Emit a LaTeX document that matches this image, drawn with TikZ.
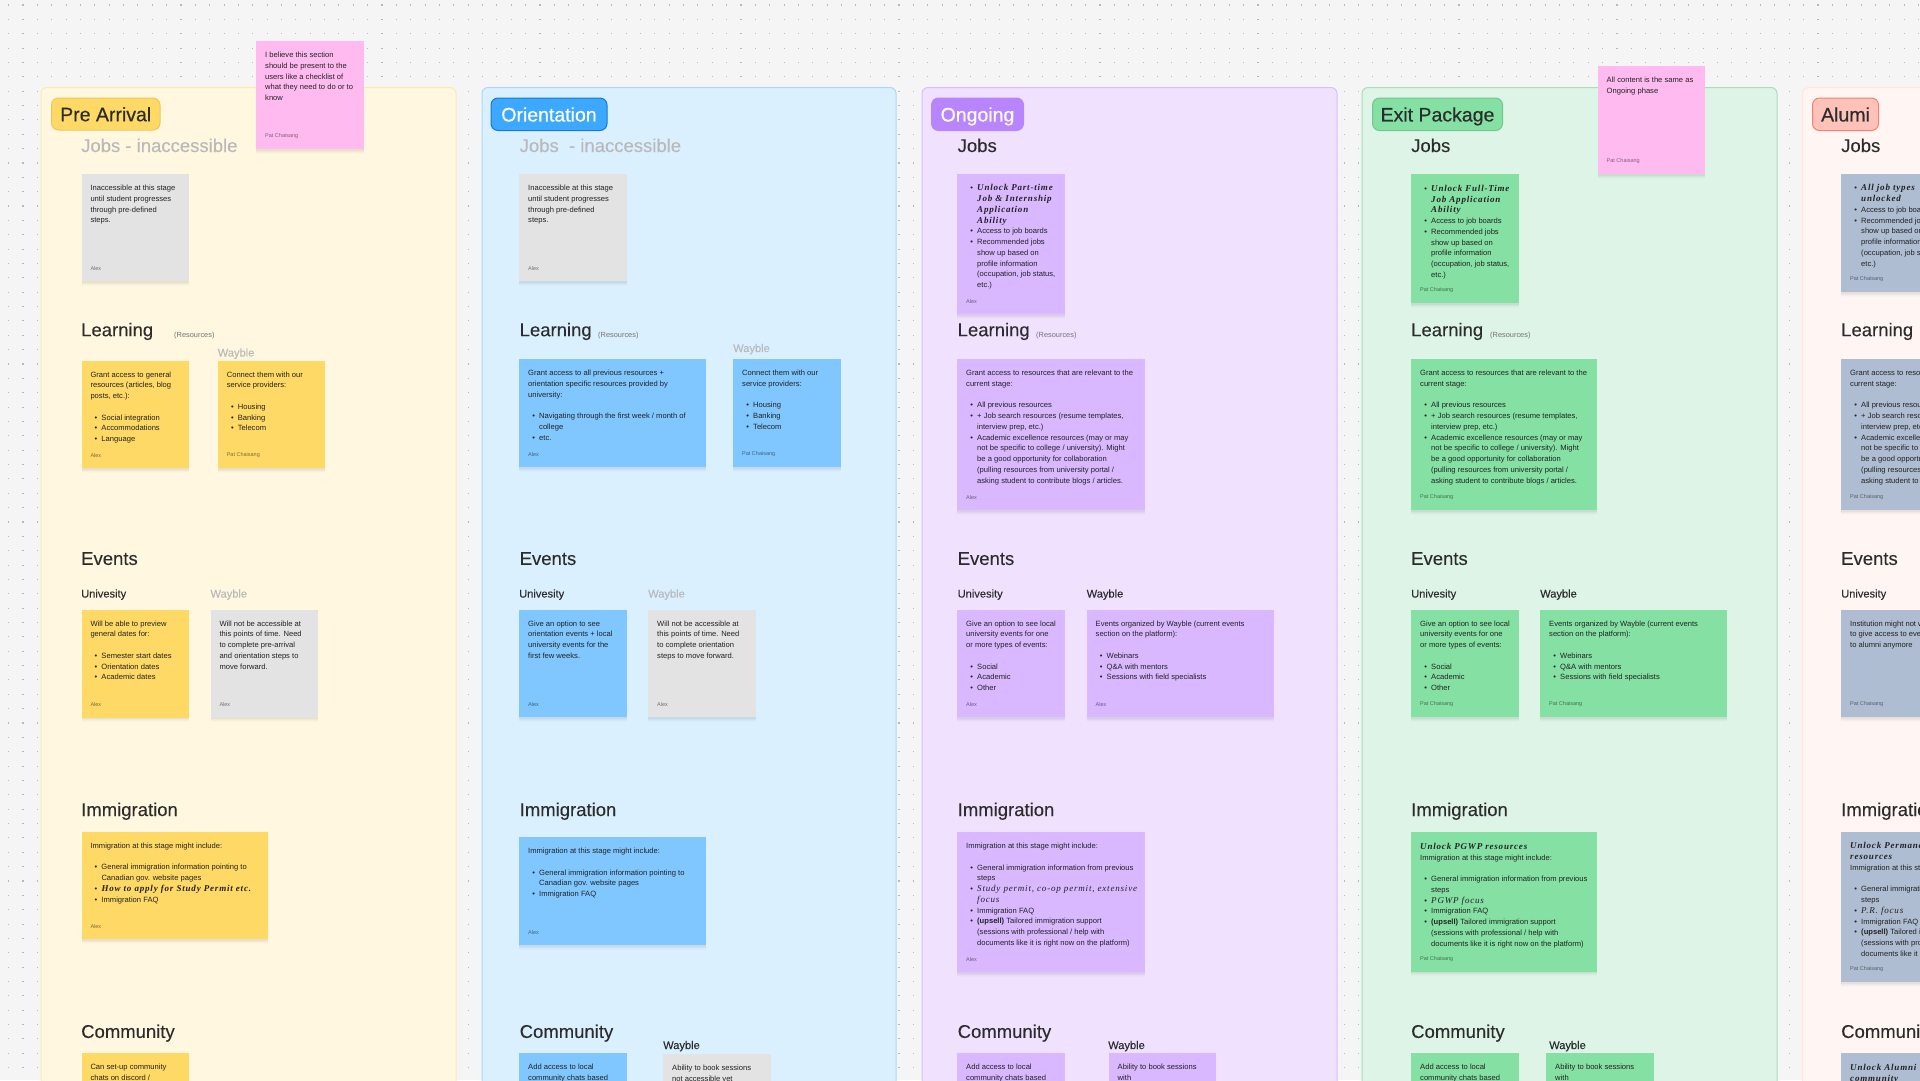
\documentclass[tikz,border=0pt]{standalone}
\usepackage{fontspec}
\setmainfont{Liberation Sans}
\newfontfamily\medfont[FakeBold=0.45]{Liberation Sans}
\newfontfamily\headfont[FakeBold=0.12]{Liberation Sans}
\newfontfamily\handbold[LetterSpace=9]{Liberation Serif Bold Italic}
\newfontfamily\handthin[LetterSpace=9]{Liberation Serif Italic}
\usetikzlibrary{shadows}
\definecolor{bgc}{HTML}{F5F5F5}
\definecolor{dotc}{HTML}{B8B8B8}
\definecolor{fyel}{HTML}{FFF7E0}\definecolor{byel}{HTML}{FDE9AE}
\definecolor{fblu}{HTML}{DAF0FF}\definecolor{bblu}{HTML}{A8D8FF}
\definecolor{fpur}{HTML}{F0E2FF}\definecolor{bpur}{HTML}{D9BEFF}
\definecolor{fgrn}{HTML}{DDF4E6}\definecolor{bgrn}{HTML}{A5E0BC}
\definecolor{fred}{HTML}{FFF5F2}\definecolor{bred}{HTML}{FFE6E0}
\definecolor{cyel}{HTML}{FFD966}\definecolor{cblu}{HTML}{80C7FF}
\definecolor{cpur}{HTML}{D9B8FF}\definecolor{cgrn}{HTML}{85E0A3}
\definecolor{cgry}{HTML}{E3E3E3}\definecolor{cslt}{HTML}{AEBDD1}
\definecolor{cpnk}{HTML}{FFBBF0}
\definecolor{inkc}{HTML}{222222}
\definecolor{headc}{HTML}{2C2C2C}
\definecolor{dimc}{HTML}{B9B9B9}
\definecolor{tagblu}{HTML}{3DA8FF}\definecolor{tagblub}{HTML}{1B78CC}
\definecolor{tagpur}{HTML}{B885FF}
\definecolor{tagred}{HTML}{FFC2B8}\definecolor{tagredb}{HTML}{F4806E}
\tikzset{
  framebox/.style={rounded corners=6pt,line width=1pt,inner sep=0pt,anchor=north west},
  tagbox/.style={rounded corners=7pt,line width=1pt,inner sep=0pt,anchor=north west,text height=16pt,text depth=1.6pt,font=\medfont\fontsize{19.5}{22}\selectfont},
  cardbox/.style={inner sep=0pt,anchor=north west,
    general shadow={fill=black,opacity=.012,shadow yshift=-4.5pt},
    general shadow={fill=black,opacity=.018,shadow yshift=-3.5pt},
    general shadow={fill=black,opacity=.025,shadow yshift=-2.5pt},
    general shadow={fill=black,opacity=.035,shadow yshift=-1.5pt}},
  bodytext/.style={inner sep=0pt,anchor=north west,align=left,text=inkc,
    font=\fontsize{7.6}{10.75}\selectfont,execute at begin node={\rule{0pt}{7pt}}},
  authortext/.style={inner sep=0pt,anchor=west,font=\fontsize{5.5}{7}\selectfont},
  headtext/.style={inner sep=0pt,anchor=base west,font=\headfont\fontsize{18.5}{22}\selectfont,yshift=0.8pt},
  subtext/.style={inner sep=0pt,anchor=base west,font=\headfont\fontsize{11.1}{13}\selectfont},
  smalltext/.style={inner sep=0pt,anchor=base west,text=black!55,font=\fontsize{7.4}{9}\selectfont}
}
% name, x1, y1, x2, y2, fill, body, author
\newcommand{\stickynote}[8]{%
  \node[cardbox,fill=#6,minimum width={(#4-#2)*1pt},minimum height={(#5-#3)*1pt}] (#1) at (#2,#3) {};
  \node[bodytext] (#1t) at ({#2+9},{#3+11}) {#7};
  \if\relax\detokenize{#8}\relax\else
  \node[authortext,text=#6!50!black] (#1a) at ({#2+9},{#5-12.6}) {#8};
  \fi
}
\newcommand{\bl}[1]{\hspace*{4.2pt}\makebox[6.8pt][l]{•}#1}
\newcommand{\cn}[1]{\hspace*{11pt}#1}
\newcommand{\hw}[1]{{\handbold\fontsize{9}{10.75}\selectfont #1}}
\newcommand{\hl}[1]{{\handthin\fontsize{9}{10.75}\selectfont #1}}
\newcommand{\vg}{\\[10.75pt]}
\begin{document}
\begin{tikzpicture}[x=1pt,y=-1pt]
\useasboundingbox (0,0) rectangle (1920,1080);
\clip (0,0) rectangle (1920,1080);
\fill[bgc] (0,0) rectangle (1920,1080);
\foreach \r in {0,...,75}
  \draw[dotc,line width=1.1pt,dash pattern=on 1.1pt off 13.26pt] (8.1,{5+14.36*\r}) -- (1920,{5+14.36*\r});
% frames
\node[framebox,fill=fyel,draw=byel,minimum width=415pt,minimum height=1200pt] (fr1) at (40.5,87) {};
\node[framebox,fill=fblu,draw=bblu,minimum width=414pt,minimum height=1200pt] (fr2) at (481.5,87) {};
\node[framebox,fill=fpur,draw=bpur,minimum width=415pt,minimum height=1200pt] (fr3) at (921.5,87) {};
\node[framebox,fill=fgrn,draw=bgrn,minimum width=415pt,minimum height=1200pt] (fr4) at (1361.5,87) {};
\node[framebox,fill=fred,draw=bred,minimum width=415pt,minimum height=1200pt] (fr5) at (1802,87) {};
% tags
\node[tagbox,fill=cyel,draw=cyel!92!black,text=headc,minimum width=108.5pt,minimum height=32pt] (tag1) at (51,97.5) {Pre Arrival};
\node[tagbox,fill=tagblu,draw=tagblub,text=white,minimum width=116pt,minimum height=32.5pt] (tag2) at (490.5,97.5) {Orientation};
\node[tagbox,fill=tagpur,draw=tagpur,text=white,minimum width=92pt,minimum height=32.5pt] (tag3) at (931,97.5) {Ongoing};
\node[tagbox,fill=cgrn,draw=cgrn!88!black,text=headc,minimum width=130pt,minimum height=32.5pt] (tag4) at (1372,97.5) {Exit Package};
\node[tagbox,fill=tagred,draw=tagredb,text=headc,minimum width=66pt,minimum height=32.5pt] (tag5) at (1812,97.5) {Alumi};
% ---------- Pre Arrival
\node[headtext,text=dimc] (h1a) at (81,152.8) {Jobs - inaccessible};
\stickynote{a1}{81.3}{174}{188.6}{281}{cgry}{Inaccessible at this stage\\until student progresses\\through pre-defined\\steps.}{Alex}
\node[headtext,text=headc] (h1b) at (81,337) {Learning};
\node[smalltext] (r1) at (174,337) {(Resources)};
\node[subtext,text=dimc] (w1a) at (217.6,356.5) {Wayble};
\stickynote{a2}{81.3}{360.5}{188.6}{468}{cyel}{Grant access to general\\resources (articles, blog\\posts, etc.):\vg\bl{Social integration}\\\bl{Accommodations}\\\bl{Language}}{Alex}
\stickynote{a3}{217.6}{360.5}{325}{468}{cyel}{Connect them with our\\service providers:\vg\bl{Housing}\\\bl{Banking}\\\bl{Telecom}}{Pat Chaisang}
\node[headtext,text=headc] (h1c) at (81,565.7) {Events};
\node[subtext,text=headc] (u1) at (81,597.5) {Univesity};
\node[subtext,text=dimc] (w1b) at (210.3,597.5) {Wayble};
\stickynote{a4}{81.3}{609.4}{188.6}{717.3}{cyel}{Will be able to preview\\general dates for:\vg\bl{Semester start dates}\\\bl{Orientation dates}\\\bl{Academic dates}}{Alex}
\stickynote{a5}{210.3}{609.4}{317.6}{717.3}{cgry}{Will not be accessible at\\this points of time. Need\\to complete pre-arrival\\and orientation steps to\\move forward.}{Alex}
\node[headtext,text=headc] (h1d) at (81,816.8) {Immigration};
\stickynote{a6}{81.3}{831.7}{267.6}{938.9}{cyel}{Immigration at this stage might include:\vg\bl{General immigration information pointing to}\\\cn{Canadian gov. website pages}\\\bl{\hw{How to apply for Study Permit etc.}}\\\bl{Immigration FAQ}}{Alex}
\node[headtext,text=headc] (h1e) at (81,1038.7) {Community};
\stickynote{a7}{81.3}{1053}{188.6}{1161}{cyel}{Can set-up community\\chats on discord /}{}
\stickynote{anote}{256}{41}{363.7}{149}{cpnk}{I believe this section\\should be present to the\\users like a checklist of\\what they need to do or to\\know}{Pat Chaisang}
% ---------- Orientation
\node[headtext,text=dimc] (h2a) at (519.5,152.8) {Jobs\ \ - inaccessible};
\stickynote{b1}{519}{174}{627}{281}{cgry}{Inaccessible at this stage\\until student progresses\\through pre-defined\\steps.}{Alex}
\node[headtext,text=headc] (h2b) at (519.5,337) {Learning};
\node[smalltext] (r2) at (598,337) {(Resources)};
\node[subtext,text=dimc] (w2a) at (733,352) {Wayble};
\stickynote{b2}{519}{359}{706}{467}{cblu}{Grant access to all previous resources +\\orientation specific resources provided by\\university:\vg\bl{Navigating through the first week / month of}\\\cn{college}\\\bl{etc.}}{Alex}
\stickynote{b3}{733}{359}{840.5}{467}{cblu}{Connect them with our\\service providers:\vg\bl{Housing}\\\bl{Banking}\\\bl{Telecom}}{Pat Chaisang}
\node[headtext,text=headc] (h2c) at (519.5,565.7) {Events};
\node[subtext,text=headc] (u2) at (519,597.5) {Univesity};
\node[subtext,text=dimc] (w2b) at (648,597.5) {Wayble};
\stickynote{b4}{519}{609.5}{627}{717}{cblu}{Give an option to see\\orientation events + local\\university events for the\\first few weeks.}{Alex}
\stickynote{b5}{648}{609.5}{756}{717}{cgry}{Will not be accessible at\\this points of time. Need\\to complete orientation\\steps to move forward.}{Alex}
\node[headtext,text=headc] (h2d) at (519.5,816.8) {Immigration};
\stickynote{b6}{519}{837}{706}{945}{cblu}{Immigration at this stage might include:\vg\bl{General immigration information pointing to}\\\cn{Canadian gov. website pages}\\\bl{Immigration FAQ}}{Alex}
\node[headtext,text=headc] (h2e) at (519.5,1038.7) {Community};
\node[subtext,text=headc] (w2c) at (663,1049) {Wayble};
\stickynote{b7}{519}{1053}{627}{1161}{cblu}{Add access to local\\community chats based}{}
\stickynote{b8}{663}{1054}{771}{1161}{cgry}{Ability to book sessions\\not accessible yet}{}
% ---------- Ongoing
\node[headtext,text=headc] (h3a) at (957.5,152.8) {Jobs};
\stickynote{c1}{957}{173.5}{1065}{314}{cpur}{\bl{\hw{Unlock Part-time}}\\\cn{\hw{Job \& Internship}}\\\cn{\hw{Application}}\\\cn{\hw{Ability}}\\\bl{Access to job boards}\\\bl{Recommended jobs}\\\cn{show up based on}\\\cn{profile information}\\\cn{(occupation, job status,}\\\cn{etc.)}}{Alex}
\node[headtext,text=headc] (h3b) at (957.5,337) {Learning};
\node[smalltext] (r3) at (1036,337) {(Resources)};
\stickynote{c2}{957}{359}{1144.5}{510}{cpur}{Grant access to resources that are relevant to the\\current stage:\vg\bl{All previous resources}\\\bl{+ Job search resources (resume templates,}\\\cn{interview prep, etc.)}\\\bl{Academic excellence resources (may or may}\\\cn{not be specific to college / university). Might}\\\cn{be a good opportunity for collaboration}\\\cn{(pulling resources from university portal /}\\\cn{asking student to contribute blogs / articles.}}{Alex}
\node[headtext,text=headc] (h3c) at (957.5,565.7) {Events};
\node[subtext,text=headc] (u3) at (957.5,597.5) {Univesity};
\node[subtext,text=headc] (w3b) at (1086.5,597.5) {Wayble};
\stickynote{c3}{957}{609.5}{1065}{717}{cpur}{Give an option to see local\\university events for one\\or more types of events:\vg\bl{Social}\\\bl{Academic}\\\bl{Other}}{Alex}
\stickynote{c4}{1086.5}{609.5}{1273.5}{717}{cpur}{Events organized by Wayble (current events\\section on the platform):\vg\bl{Webinars}\\\bl{Q\&A with mentors}\\\bl{Sessions with field specialists}}{Alex}
\node[headtext,text=headc] (h3d) at (957.5,816.8) {Immigration};
\stickynote{c5}{957}{832}{1144.5}{972}{cpur}{Immigration at this stage might include:\vg\bl{General immigration information from previous}\\\cn{steps}\\\bl{\hl{Study permit, co-op permit, extensive}}\\\cn{\hl{focus}}\\\bl{Immigration FAQ}\\\bl{\textbf{(upsell)} Tailored immigration support}\\\cn{(sessions with professional / help with}\\\cn{documents like it is right now on the platform)}}{Alex}
\node[headtext,text=headc] (h3e) at (957.5,1038.7) {Community};
\node[subtext,text=headc] (w3c) at (1108,1049) {Wayble};
\stickynote{c6}{957}{1053}{1065}{1161}{cpur}{Add access to local\\community chats based}{}
\stickynote{c7}{1108.5}{1053}{1216}{1161}{cpur}{Ability to book sessions\\with}{}
% ---------- Exit Package
\node[headtext,text=headc] (h4a) at (1411,152.8) {Jobs};
\stickynote{d1}{1411}{174}{1518.5}{303}{cgrn}{\bl{\hw{Unlock Full-Time}}\\\cn{\hw{Job Application}}\\\cn{\hw{Ability}}\\\bl{Access to job boards}\\\bl{Recommended jobs}\\\cn{show up based on}\\\cn{profile information}\\\cn{(occupation, job status,}\\\cn{etc.)}}{Pat Chaisang}
\node[headtext,text=headc] (h4b) at (1411,337) {Learning};
\node[smalltext] (r4) at (1490,337) {(Resources)};
\stickynote{d2}{1411}{359}{1597}{510}{cgrn}{Grant access to resources that are relevant to the\\current stage:\vg\bl{All previous resources}\\\bl{+ Job search resources (resume templates,}\\\cn{interview prep, etc.)}\\\bl{Academic excellence resources (may or may}\\\cn{not be specific to college / university). Might}\\\cn{be a good opportunity for collaboration}\\\cn{(pulling resources from university portal /}\\\cn{asking student to contribute blogs / articles.}}{Pat Chaisang}
\node[headtext,text=headc] (h4c) at (1411,565.7) {Events};
\node[subtext,text=headc] (u4) at (1411,597.5) {Univesity};
\node[subtext,text=headc] (w4b) at (1540,597.5) {Wayble};
\stickynote{d3}{1411}{609.5}{1518.5}{717}{cgrn}{Give an option to see local\\university events for one\\or more types of events:\vg\bl{Social}\\\bl{Academic}\\\bl{Other}}{Pat Chaisang}
\stickynote{d4}{1540}{609.5}{1726.5}{717}{cgrn}{Events organized by Wayble (current events\\section on the platform):\vg\bl{Webinars}\\\bl{Q\&A with mentors}\\\bl{Sessions with field specialists}}{Pat Chaisang}
\node[headtext,text=headc] (h4d) at (1411,816.8) {Immigration};
\stickynote{d5}{1411}{832}{1597}{971.5}{cgrn}{\hw{Unlock PGWP resources}\\Immigration at this stage might include:\vg\bl{General immigration information from previous}\\\cn{steps}\\\bl{\hl{PGWP focus}}\\\bl{Immigration FAQ}\\\bl{\textbf{(upsell)} Tailored immigration support}\\\cn{(sessions with professional / help with}\\\cn{documents like it is right now on the platform)}}{Pat Chaisang}
\node[headtext,text=headc] (h4e) at (1411,1038.7) {Community};
\node[subtext,text=headc] (w4c) at (1549,1049) {Wayble};
\stickynote{d6}{1411}{1053}{1518.5}{1161}{cgrn}{Add access to local\\community chats based}{}
\stickynote{d7}{1546}{1053}{1654}{1161}{cgrn}{Ability to book sessions\\with}{}
\stickynote{dnote}{1597.5}{66}{1705}{174}{cpnk}{All content is the same as\\Ongoing phase}{Pat Chaisang}
% ---------- Alumi
\node[headtext,text=headc] (h5a) at (1841,152.8) {Jobs};
\stickynote{e1}{1841}{173.5}{1948.5}{292}{cslt}{\bl{\hw{All job types}}\\\cn{\hw{unlocked}}\\\bl{Access to job boards}\\\bl{Recommended jobs}\\\cn{show up based on}\\\cn{profile information}\\\cn{(occupation, job status,}\\\cn{etc.)}}{Pat Chaisang}
\node[headtext,text=headc] (h5b) at (1841,337) {Learning};
\stickynote{e2}{1841}{359}{2028}{510}{cslt}{Grant access to resources that are relevant to the\\current stage:\vg\bl{All previous resources}\\\bl{+ Job search resources (resume templates,}\\\cn{interview prep, etc.)}\\\bl{Academic excellence resources (may or may}\\\cn{not be specific to college / university). Might}\\\cn{be a good opportunity for collaboration}\\\cn{(pulling resources from university portal /}\\\cn{asking student to contribute blogs / articles.}}{Pat Chaisang}
\node[headtext,text=headc] (h5c) at (1841,565.7) {Events};
\node[subtext,text=headc] (u5) at (1841,597.5) {Univesity};
\stickynote{e3}{1841}{609.5}{1948.5}{717}{cslt}{Institution might not want\\to give access to events\\to alumni anymore}{Pat Chaisang}
\node[headtext,text=headc] (h5d) at (1841,816.8) {Immigration};
\stickynote{e4}{1841}{831.5}{2028}{982}{cslt}{\hw{Unlock Permanent Residence}\\\hw{resources}\\Immigration at this stage might include:\vg\bl{General immigration information from previous}\\\cn{steps}\\\bl{\hl{P.R. focus}}\\\bl{Immigration FAQ}\\\bl{\textbf{(upsell)} Tailored immigration support}\\\cn{(sessions with professional / help with}\\\cn{documents like it is right now on the platform)}}{Pat Chaisang}
\node[headtext,text=headc] (h5e) at (1841,1038.7) {Community};
\stickynote{e5}{1841}{1053}{1948.5}{1161}{cslt}{\hw{Unlock Alumni}\\\hw{community}}{}
\end{tikzpicture}
\end{document}
